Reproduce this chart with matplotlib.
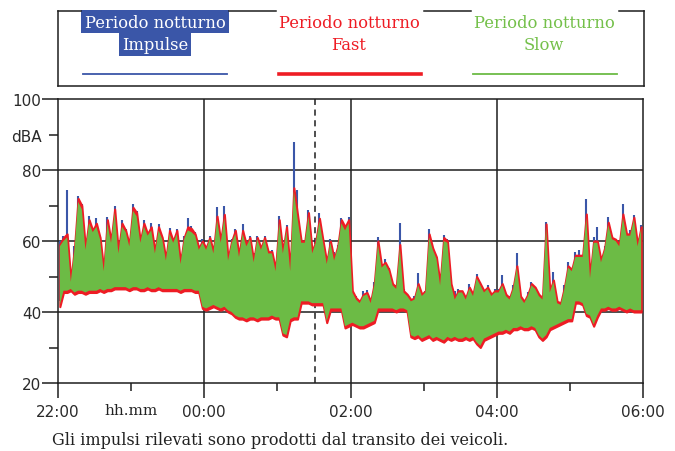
import numpy as np
import matplotlib
matplotlib.use("Agg")
import matplotlib.pyplot as plt
from matplotlib.lines import Line2D
from matplotlib.patches import Rectangle

# night-time noise levels, 22:00 -> 06:00, one sample every 3 minutes
# (max / min of each interval, dBA)
step_min = 3

fast_hi = [59, 61, 62, 49, 58, 72, 70, 58, 66, 63, 65, 61, 52, 66, 60, 69, 57, 65, 63, 59,
           69.5, 68, 60, 65, 62, 64, 57, 64, 61, 55, 63, 60, 63, 54, 61, 64, 63.5, 62, 58, 60,
           58, 61, 57, 67, 60, 67.5, 55, 60, 63, 56, 63, 59, 61, 54.5, 61, 58, 61, 57, 57, 52,
           66, 57, 64, 52, 75, 67.5, 60, 60, 68, 57, 60, 66.4, 60, 54, 60, 55, 58.5, 66, 64, 66,
           46, 44, 43, 45, 45.5, 43, 48, 60, 53, 54, 52, 48, 47, 59, 46, 45, 43.5, 44, 48, 45,
           46, 62, 58, 55.5, 48, 61, 60, 48, 44, 46, 46, 44, 47, 45, 50, 48, 46, 47, 45, 46,
           46, 48, 45, 44, 47, 53, 44.5, 43, 45, 48, 47, 45, 44, 64.8, 46, 49, 43, 42.6, 47, 53,
           52, 56, 56, 56, 67.6, 50, 60, 60, 54.6, 58, 65.3, 61, 60.5, 59, 67.6, 62, 62, 66.7, 59, 64]

fast_lo = [41.5, 45.5, 45.5, 46, 45, 45.5, 45.5, 45, 45.5, 45.5, 45.5, 46, 45.5, 46, 46, 46.5, 46.5, 46.5, 46.5, 46,
           46.5, 46.5, 46, 46, 46.5, 46, 46, 46.5, 46, 46, 46, 46, 46, 45.5, 46, 46, 46, 45.5, 45.5, 41,
           40.5, 41, 41.5, 41, 40.5, 41, 40, 39.5, 38.5, 38, 38, 37.5, 38, 38, 37.5, 38, 38, 38, 38.5, 38,
           38, 33.5, 33, 37.5, 38, 38, 42.5, 42.5, 42.5, 42, 42, 42, 42, 37, 40.5, 40.5, 40.5, 40.5, 35.5, 36,
           36.5, 36, 35.5, 35.5, 36, 36.5, 37, 40.5, 40.5, 40.5, 40.5, 40.5, 40, 40.5, 40.5, 40, 33, 32.5, 33, 32,
           32.5, 33, 32, 32.5, 32, 31.5, 32.5, 32, 32.5, 32, 32, 32.5, 32, 32.5, 31, 30, 32, 32.5, 33, 33.5,
           34, 34, 34.5, 34, 35, 35, 35.5, 35, 35, 35.5, 35, 33, 32, 33, 35, 35.5, 36, 36.5, 37, 37.5,
           37.5, 42.5, 42.5, 42, 39, 38.5, 36, 38.5, 40.5, 40.5, 41, 40.5, 40.5, 41, 40.5, 40, 40.5, 40, 40, 40]

slow_hi = [58.5, 60, 61, 48.5, 57.5, 71, 69, 57.5, 65, 62.5, 64, 60.5, 51.5, 65, 59.5, 68, 56.5, 64, 62.5, 58.5,
           68.5, 67, 59.5, 64, 61.5, 63, 56.5, 63, 60.5, 54.5, 62, 59.5, 62, 53.5, 60.5, 63, 62.5, 61.5, 57.5, 59.5,
           57.5, 60.5, 56.5, 66, 59.5, 66.5, 54.5, 59.5, 62, 55.5, 62, 58.5, 60.5, 54, 60.5, 57.5, 60.5, 56.5, 56.5, 51.5,
           65, 56.5, 63, 51.5, 74, 66.5, 59.5, 59.5, 67, 56.5, 59.5, 65.5, 59.5, 53.5, 59.5, 54.5, 58, 65, 63, 65,
           45.5, 43.5, 42.5, 44.5, 45, 42.5, 47.5, 59, 52.5, 53.5, 51.5, 47.5, 46.5, 58, 45.5, 44.5, 43, 43.5, 47.5, 44.5,
           45.5, 61, 57.5, 55, 47.5, 60, 59.5, 47.5, 43.5, 45.5, 45.5, 43.5, 46.5, 44.5, 49.5, 47.5, 45.5, 46.5, 44.5, 45.5,
           45.5, 47.5, 44.5, 43.5, 46.5, 52.5, 44, 42.5, 44.5, 47.5, 46.5, 44.5, 43.5, 64, 45.5, 48.5, 42.5, 42, 46.5, 52.5,
           51.5, 55.5, 55.5, 55.5, 66.5, 49.5, 59.5, 59.5, 54, 57.5, 64.5, 60.5, 60, 58.5, 66.5, 61.5, 61.5, 66, 58.5, 63.5]

slow_lo = [42, 46, 46, 46.5, 45.5, 46, 46, 45.5, 46, 46, 46, 46.5, 46, 46.5, 46.5, 47, 47, 47, 47, 46.5,
           47, 47, 46.5, 46.5, 47, 46.5, 46.5, 47, 46.5, 46.5, 46.5, 46.5, 46.5, 46, 46.5, 46.5, 46.5, 46, 46, 41.5,
           41, 41.5, 42, 41.5, 41, 41.5, 40.5, 40, 39, 38.5, 38.5, 38, 38.5, 38.5, 38, 38.5, 38.5, 38.5, 39, 38.5,
           38.5, 34, 33.5, 38, 38.5, 38.5, 43, 43, 43, 42.5, 42.5, 42.5, 42.5, 37.5, 41, 41, 41, 41, 36, 36.5,
           37, 36.5, 36, 36, 36.5, 37, 37.5, 41, 41, 41, 41, 41, 40.5, 41, 41, 40.5, 33.5, 33, 33.5, 32.5,
           33, 33.5, 32.5, 33, 32.5, 32, 33, 32.5, 33, 32.5, 32.5, 33, 32.5, 33, 31.5, 30.5, 32.5, 33, 33.5, 34,
           34.5, 34.5, 35, 34.5, 35.5, 35.5, 36, 35.5, 35.5, 36, 35.5, 33.5, 32.5, 33.5, 35.5, 36, 36.5, 37, 37.5, 38,
           38, 43, 43, 42.5, 39.5, 39, 36.5, 39, 41, 41, 41.5, 41, 41, 41.5, 41, 40.5, 41, 40.5, 40.5, 40.5]

impulse_hi = [60, 61.5, 74.5, 48, 58.5, 72.8, 70.5, 57, 67, 63.5, 66.5, 61, 51, 66.8, 59, 70, 56, 66, 63.5, 60,
              70.3, 68.5, 59, 65.8, 62.5, 65, 56, 64.7, 61, 54, 63.8, 59, 63.5, 53, 61.5, 66.4, 64.2, 62.5, 57, 60.5,
              58.5, 61.5, 56, 69.7, 60.5, 70, 54, 60.5, 63.5, 55, 64.8, 59.5, 61.5, 56.5, 61.5, 57, 61.5, 56, 57.5, 51,
              67, 56, 64.5, 51, 88, 74.4, 60.5, 59, 68.6, 56, 60.5, 68, 60.5, 53, 60.5, 57, 59, 66.5, 64, 66.8,
              46, 44.5, 42, 45.8, 46.2, 42, 48.5, 61, 53.5, 54.8, 52.5, 48, 47.5, 65, 46.5, 44, 43, 44.5, 51, 45,
              46, 63.4, 58, 55.5, 48, 61.7, 60.5, 47, 46, 46.5, 46, 43, 47.8, 45, 50.8, 48.5, 45, 47.5, 44, 46.5,
              46.5, 50.5, 44, 44.5, 47.5, 56.5, 44, 43, 45.5, 48.5, 47, 44, 43.5, 65.3, 45, 51.4, 43, 42, 47.5, 54,
              52.5, 57, 57.5, 55, 71.8, 49, 61, 64, 54, 58.5, 66.7, 61.5, 60, 59.5, 70.4, 62, 63, 67.2, 58, 64.5]

impulse_lo = [43, 47, 47, 47, 46.5, 47, 47, 46.5, 47, 47, 47, 47.5, 47, 47.5, 47.5, 48, 48, 48, 48, 47.5,
              48, 48, 47.5, 47.5, 48, 47.5, 47.5, 48, 47.5, 47.5, 47.5, 47.5, 47.5, 47, 47.5, 47.5, 47.5, 47, 47, 42.5,
              42, 42.5, 43, 42.5, 42, 42.5, 41.5, 41, 40, 39.5, 39.5, 39, 39.5, 39.5, 39, 39.5, 39.5, 39.5, 40, 39.5,
              39.5, 35, 34.5, 39, 39.5, 39.5, 44, 44, 44, 43.5, 43.5, 43.5, 43.5, 38.5, 42, 42, 42, 42, 37, 37.5,
              38, 37.5, 37, 37, 37.5, 38, 38.5, 42, 42, 42, 42, 42, 41.5, 42, 42, 41.5, 34.5, 34, 34.5, 33.5,
              34, 34.5, 33.5, 34, 33.5, 33, 34, 33.5, 34, 33.5, 33.5, 34, 33.5, 34, 32.5, 31.5, 33.5, 34, 34.5, 35,
              35.5, 35.5, 36, 35.5, 36.5, 36.5, 37, 36.5, 36.5, 37, 36.5, 34.5, 33.5, 34.5, 36.5, 37, 37.5, 38, 38.5, 39,
              39, 44, 44, 43.5, 40.5, 40, 37.5, 40, 42, 42, 42.5, 42, 42, 42.5, 42, 41.5, 42, 41.5, 41.5, 41.5]

xtick_pos = [0, 2, 4, 6, 8]
xtick_labels = ["22:00", "00:00", "02:00", "04:00", "06:00"]
ytick_pos = [20, 40, 60, 80, 90, 100]
ytick_labels = ["20", "40", "60", "80", "dBA", "100"]
grid_y = [40, 60, 80]
grid_x = [2, 4, 6]
marker_time = 3.515   # dashed line, about 01:31

c_blue = "#3a56a8"
c_red = "#ee1c24"
c_green = "#6cbb45"
ink = "#1e1e1e"
label_col = "#2a2a2a"

W, H = 675, 452
fig = plt.figure(figsize=(W / 100, H / 100), dpi=100)
ax = fig.add_axes([58 / W, 1 - 384 / H, (643 - 58) / W, (384 - 100) / H])

# sample times in hours after 22:00 (centre of each 3-minute interval)
t = (np.arange(len(fast_hi)) + 0.5) * step_min / 60.0

ax.vlines(t, impulse_lo, impulse_hi, color=c_blue, lw=1.5, zorder=3)
ax.fill_between(t, fast_lo, fast_hi, facecolor=c_red, edgecolor=c_red,
                lw=1.5, zorder=4)
ax.fill_between(t, slow_lo, slow_hi, facecolor=c_green, edgecolor="none",
                lw=0, zorder=5)

for g in grid_y:
    ax.axhline(g, color=ink, lw=1.1, zorder=1)
for g in grid_x:
    ax.axvline(g, color=ink, lw=1.1, zorder=1)
ax.axvline(marker_time, color=ink, lw=1.1, ls=(0, (4, 3)), zorder=1)

ax.set_xlim(0, 8)
ax.set_ylim(20, 100)
ax.set_xticks(xtick_pos)
ax.set_xticklabels(xtick_labels)
ax.set_xticks([1, 3, 5, 7], minor=True)
ax.set_yticks(ytick_pos)
ax.set_yticklabels(ytick_labels)
ax.set_yticks([30, 50, 70], minor=True)

for sp in ax.spines.values():
    sp.set_color(ink)
    sp.set_linewidth(1.1)

ax.tick_params(axis="x", which="major", length=10.8, width=1.1, color=ink, pad=4,
               labelsize=11, labelcolor=label_col)
ax.tick_params(axis="x", which="minor", length=5.8, width=1.1, color=ink)
ax.tick_params(axis="y", which="major", length=11.5, width=1.1, color=ink, pad=0.5,
               labelsize=11, labelcolor=label_col)
ax.tick_params(axis="y", which="minor", length=6.5, width=1.1, color=ink)
# the dBA row only has a short tick
ax.yaxis.get_major_ticks()[4].tick1line.set_markersize(6.5)

ax.text(1.0, -0.095, "hh.mm", transform=ax.get_xaxis_transform(), ha="center",
        va="center", fontsize=11, family="DejaVu Serif", color="#222222")


# legend panel drawn at the top of the figure (pixel positions)
def fx(x):
    return x / W


def fy(y):
    return 1 - y / H


frame = dict(color=ink, lw=1.1, transform=fig.transFigure)
fig.add_artist(Line2D([fx(58), fx(58)], [fy(12), fy(87)], **frame))
fig.add_artist(Line2D([fx(644), fx(644)], [fy(12), fy(87)], **frame))
fig.add_artist(Line2D([fx(58), fx(644)], [fy(87), fy(87)], **frame))
for a, b in [(58, 81), (229, 276), (424, 471), (619, 644)]:
    fig.add_artist(Line2D([fx(a), fx(b)], [fy(12), fy(12)], **frame))

# blue highlight behind the Impulse caption
for x0, x1, y0, y1 in [(81, 229, 11, 33.5), (119, 191, 33, 57)]:
    fig.add_artist(Rectangle((fx(x0), fy(y1)), fx(x1) - fx(x0), fy(y0) - fy(y1),
                             transform=fig.transFigure, facecolor=c_blue,
                             edgecolor="none"))

legend_items = [("Impulse", 155, "white", c_blue, 1.3, 83, 227),
                ("Fast", 349, c_red, c_red, 2.6, 279, 421),
                ("Slow", 544, "#74c04a", c_green, 1.3, 473, 617)]
for name, cx, tcol, col, lw, x0, x1 in legend_items:
    fig.text(fx(cx), fy(23), "Periodo notturno", ha="center", va="center",
             fontsize=11.8, family="DejaVu Serif", color=tcol)
    fig.text(fx(cx), fy(46), name, ha="center", va="center",
             fontsize=11.8, family="DejaVu Serif", color=tcol)
    fig.add_artist(Line2D([fx(x0), fx(x1)], [fy(75), fy(75)], color=col, lw=lw,
                          transform=fig.transFigure))

fig.text(fx(52), fy(441), "Gli impulsi rilevati sono prodotti dal transito dei veicoli.",
         ha="left", va="center", fontsize=11.5, family="DejaVu Serif", color="#222222")

fig.savefig("out.png", dpi=100)
